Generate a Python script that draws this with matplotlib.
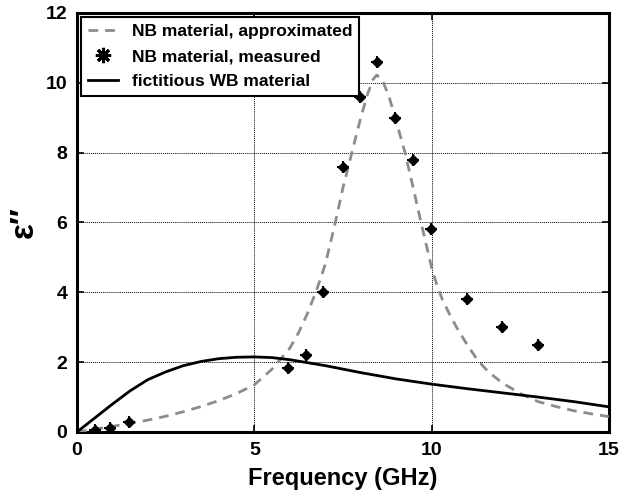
import matplotlib
matplotlib.use("Agg")
import matplotlib.pyplot as plt
from matplotlib.lines import Line2D

plt.rcParams['font.family'] = ['Liberation Sans', 'DejaVu Sans']
plt.rcParams['font.weight'] = 'bold'

# NB material, approximated (dashed grey)
approx_x = [0, 0.5, 1, 1.5, 2, 2.5, 3, 3.5, 4, 4.5, 5, 5.5, 6, 6.25, 6.5, 6.75, 7, 7.25, 7.5, 7.75, 8, 8.2, 8.35, 8.45,
            8.6, 8.8, 9, 9.25, 9.5, 9.7, 9.85, 10, 10.15, 10.3, 10.5, 10.7, 11, 11.3, 11.6, 12, 12.5, 13, 13.5, 14, 14.5, 15]
approx_y = [0, 0.08, 0.16, 0.25, 0.34, 0.45, 0.58, 0.73, 0.9, 1.1, 1.35, 1.8, 2.4, 2.85, 3.4, 4.05, 4.8, 5.85, 7.0, 8.0, 9.0, 9.7, 10.1, 10.22,
            10.1, 9.6, 8.9, 8.0, 6.9, 6.0, 5.35, 4.7, 4.2, 3.8, 3.38, 3.0, 2.5, 2.05, 1.72, 1.4, 1.1, 0.87, 0.73, 0.61, 0.52, 0.44]

# NB material, measured (markers)
meas_x = [0.5, 0.93, 1.46, 5.95, 6.45, 6.93, 7.49, 7.97, 8.45, 8.96, 9.47, 9.97, 10.99, 11.97, 12.99]
meas_y = [0.05, 0.1, 0.3, 1.83, 2.2, 4.0, 7.6, 9.6, 10.6, 9.0, 7.8, 5.8, 3.8, 3.0, 2.5]

# fictitious WB material (solid black)
wb_x = [0, 0.5, 1, 1.5, 2, 2.5, 3, 3.5, 4, 4.5, 5, 5.5, 6, 7, 8, 9, 10, 11, 12, 13, 14, 15]
wb_y = [0, 0.4, 0.8, 1.18, 1.5, 1.72, 1.9, 2.02, 2.1, 2.14, 2.15, 2.13, 2.07, 1.9, 1.7, 1.52, 1.37, 1.24, 1.12, 1.0, 0.87, 0.72]

xticks = [0, 5, 10, 15]
yticks = [0, 2, 4, 6, 8, 10, 12]

fig = plt.figure(figsize=(6.27, 4.99), dpi=100)
ax = fig.add_axes([0.1228, 0.1343, 0.8485, 0.8397])

dash = (0, (3.5, 2.5))
ax.plot(approx_x, approx_y, color='#8c8c8c', lw=2, ls=dash, zorder=3)
ax.plot(meas_x, meas_y, ls='none', marker='D', ms=5.5, color='black', zorder=4)
ax.plot(meas_x, meas_y, ls='none', marker='+', ms=9, mew=1.5, color='black', zorder=4)
ax.plot(wb_x, wb_y, color='black', lw=2, zorder=3)

ax.set_xlim(0, 15)
ax.set_ylim(0, 12)
ax.set_xticks(xticks)
ax.set_yticks(yticks)
ax.grid(True, color='black', ls=(0, (1, 1)), lw=0.7)
ax.tick_params(direction='in', top=True, right=True, length=5, width=1.2, labelsize=14, pad=7)
for lab in ax.get_xticklabels() + ax.get_yticklabels():
    lab.set_fontweight('bold')
for s in ax.spines.values():
    s.set_linewidth(2.2)

ax.set_xlabel('Frequency (GHz)', fontsize=17, fontweight='bold', labelpad=6)
ax.set_ylabel('ε″', fontsize=24, fontweight='bold', labelpad=4)

handles = [
    Line2D([], [], color='#8c8c8c', lw=2, ls=dash),
    Line2D([], [], ls='none', marker=(8, 2, 0), ms=11, mew=2.2, color='black'),
    Line2D([], [], color='black', lw=2),
]
labels = ['NB material, approximated', 'NB material, measured', 'fictitious WB material']
leg = ax.legend(handles, labels, loc='upper left', fancybox=False, framealpha=1,
                edgecolor='black', prop={'weight': 'bold', 'size': 12.5},
                borderaxespad=0.25, handlelength=1.7, handletextpad=0.8,
                labelspacing=0.55, borderpad=0.4)
leg.get_frame().set_linewidth(1.5)

fig.savefig('out.png', dpi=100)
